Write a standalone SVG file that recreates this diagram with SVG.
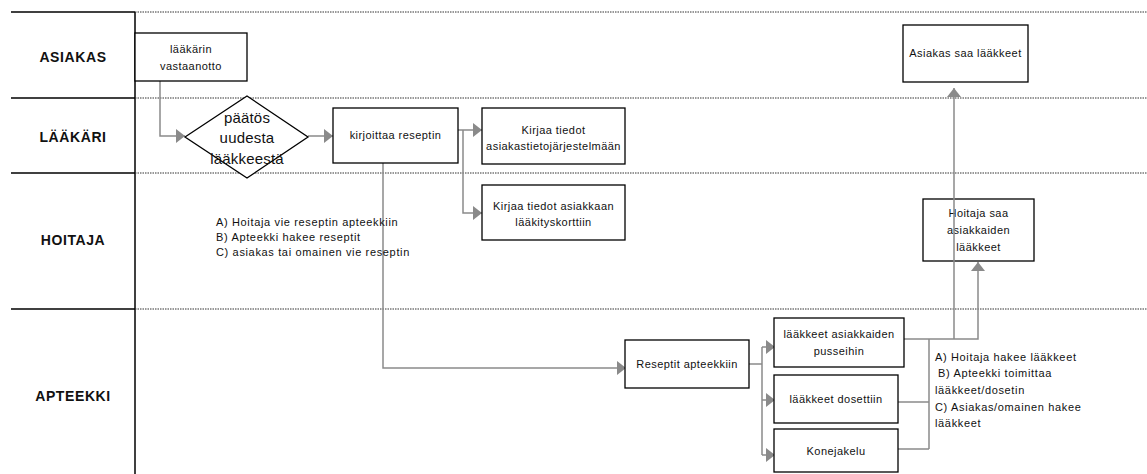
<svg xmlns="http://www.w3.org/2000/svg" width="1147" height="474" viewBox="0 0 1147 474">
  <style>
    .lane { stroke: #000; stroke-width: 1.5; fill: none; }
    .sep { stroke: #333; stroke-width: 1; stroke-dasharray: 1.5 1; fill: none; }
    .box { fill: #fff; stroke: #000; stroke-width: 1.3; }
    .conn { stroke: #8a8a8a; stroke-width: 1.5; fill: none; }
    .lbl { font-family: "Liberation Sans", Arial, sans-serif; font-size: 14px; font-weight: bold; letter-spacing: 0.6px; fill: #111; text-anchor: middle; }
    .t { font-family: "Liberation Sans", Arial, sans-serif; font-size: 11px; letter-spacing: 0.45px; fill: #111; text-anchor: middle; }
    .note { font-family: "Liberation Sans", Arial, sans-serif; font-size: 11px; letter-spacing: 0.65px; fill: #111; }
  </style>
  <defs>
    <marker id="arr" viewBox="0 0 10 10" refX="10" refY="5" markerWidth="9" markerHeight="14" markerUnits="userSpaceOnUse" orient="auto" preserveAspectRatio="none">
      <path d="M0,0 L10,5 L0,10 Z" fill="#8a8a8a"/>
    </marker>
  </defs>

  <!-- swimlanes -->
  <g id="lanes">
    <line class="lane" x1="11" y1="12" x2="135" y2="12"/>
    <line class="lane" x1="11" y1="98" x2="135" y2="98"/>
    <line class="lane" x1="11" y1="173" x2="135" y2="173"/>
    <line class="lane" x1="11" y1="309" x2="135" y2="309"/>
    <line class="lane" x1="135" y1="12" x2="135" y2="474"/>
    <line class="sep" x1="135" y1="12" x2="1147" y2="12"/>
    <line class="sep" x1="135" y1="98" x2="1147" y2="98"/>
    <line class="sep" x1="135" y1="173" x2="1147" y2="173"/>
    <line class="sep" x1="135" y1="309" x2="1147" y2="309"/>
    <text class="lbl" x="73" y="62">ASIAKAS</text>
    <text class="lbl" x="73" y="142">LÄÄKÄRI</text>
    <text class="lbl" x="73" y="245">HOITAJA</text>
    <text class="lbl" x="73" y="401">APTEEKKI</text>
  </g>

  <!-- connectors -->
  <g id="connectors">
    <polyline class="conn" points="160,81 160,136 185,136" marker-end="url(#arr)"/>
    <line class="conn" x1="308" y1="136" x2="333" y2="136" marker-end="url(#arr)"/>
    <polyline class="conn" points="458,130 463,130 482,130" marker-end="url(#arr)"/>
    <polyline class="conn" points="463,130 463,213 482,213" marker-end="url(#arr)"/>
    <polyline class="conn" points="383,163 383,368 626,368" marker-end="url(#arr)"/>
    <line class="conn" x1="749" y1="364" x2="762" y2="364"/>
    <polyline class="conn" points="762,347 762,455"/>
    <line class="conn" x1="762" y1="347" x2="775" y2="347" marker-end="url(#arr)"/>
    <line class="conn" x1="762" y1="400" x2="775" y2="400" marker-end="url(#arr)"/>
    <line class="conn" x1="762" y1="455" x2="775" y2="455" marker-end="url(#arr)"/>
    <polyline class="conn" points="904,339 978,339 978,262" marker-end="url(#arr)"/>
    <polyline class="conn" points="929,339 929,449"/>
    <line class="conn" x1="898" y1="402" x2="929" y2="402"/>
    <line class="conn" x1="898" y1="449" x2="929" y2="449"/>
  </g>

  <!-- nodes -->
  <g id="laakarin-vastaanotto">
    <rect class="box" x="135" y="33" width="112" height="48"/>
    <text class="t" x="191" y="53">lääkärin</text>
    <text class="t" x="191" y="70">vastaanotto</text>
  </g>
  <g id="paatos">
    <polygon class="box" points="185,137 247,96 308,137 247,178"/>
    <text class="t" style="font-size:15px;letter-spacing:0.2px" x="247" y="123">päätös</text>
    <text class="t" style="font-size:15px;letter-spacing:0.2px" x="247" y="143">uudesta</text>
    <text class="t" style="font-size:15px;letter-spacing:0.2px" x="247" y="164">lääkkeestä</text>
  </g>
  <g id="kirjoittaa-reseptin">
    <rect class="box" x="333" y="108" width="125" height="55"/>
    <text class="t" x="395.5" y="139">kirjoittaa reseptin</text>
  </g>
  <g id="kirjaa-jarjestelma">
    <rect class="box" x="482" y="108" width="143" height="56"/>
    <text class="t" x="553.5" y="134">Kirjaa tiedot</text>
    <text class="t" x="553.5" y="150">asiakastietojärjestelmään</text>
  </g>
  <g id="kirjaa-kortti">
    <rect class="box" x="482" y="185" width="143" height="55"/>
    <text class="t" x="553.5" y="210">Kirjaa tiedot asiakkaan</text>
    <text class="t" x="553.5" y="226">lääkityskorttiin</text>
  </g>
  <g id="reseptin-toimitus">
    <text class="note" x="216" y="226">A) Hoitaja vie reseptin apteekkiin</text>
    <text class="note" x="216" y="241">B) Apteekki hakee reseptit</text>
    <text class="note" x="216" y="256">C) asiakas tai omainen vie reseptin</text>
  </g>
  <g id="reseptit-apteekkiin">
    <rect class="box" x="625" y="340" width="124" height="48"/>
    <text class="t" x="687" y="368">Reseptit apteekkiin</text>
  </g>
  <g id="pusseihin">
    <rect class="box" x="774" y="318" width="130" height="49"/>
    <text class="t" x="839" y="338">lääkkeet asiakkaiden</text>
    <text class="t" x="839" y="355">pusseihin</text>
  </g>
  <g id="dosettiin">
    <rect class="box" x="774" y="375" width="124" height="48"/>
    <text class="t" x="836" y="403">lääkkeet dosettiin</text>
  </g>
  <g id="konejakelu">
    <rect class="box" x="774" y="429" width="124" height="43"/>
    <text class="t" x="836" y="455">Konejakelu</text>
  </g>
  <g id="hoitaja-saa">
    <rect class="box" x="923" y="199" width="111" height="62"/>
    <text class="t" x="978.5" y="217">Hoitaja saa</text>
    <text class="t" x="978.5" y="234">asiakkaiden</text>
    <text class="t" x="978.5" y="251">lääkkeet</text>
  </g>
  <g id="asiakas-saa">
    <rect class="box" x="903" y="25" width="125" height="57"/>
    <text class="t" x="965.5" y="57">Asiakas saa lääkkeet</text>
  </g>
  <g id="laakkeiden-toimitus">
    <text class="note" x="935" y="361">A) Hoitaja hakee lääkkeet</text>
    <text class="note" x="938" y="377">B) Apteekki toimittaa</text>
    <text class="note" x="935" y="394">lääkkeet/dosetin</text>
    <text class="note" x="935" y="411">C) Asiakas/omainen hakee</text>
    <text class="note" x="935" y="427">lääkkeet</text>
  </g>

  <!-- line to the client box runs across the nurse box -->
  <g id="connector-overlay">
    <line class="conn" x1="954" y1="339" x2="954" y2="88" marker-end="url(#arr)"/>
  </g>
</svg>
